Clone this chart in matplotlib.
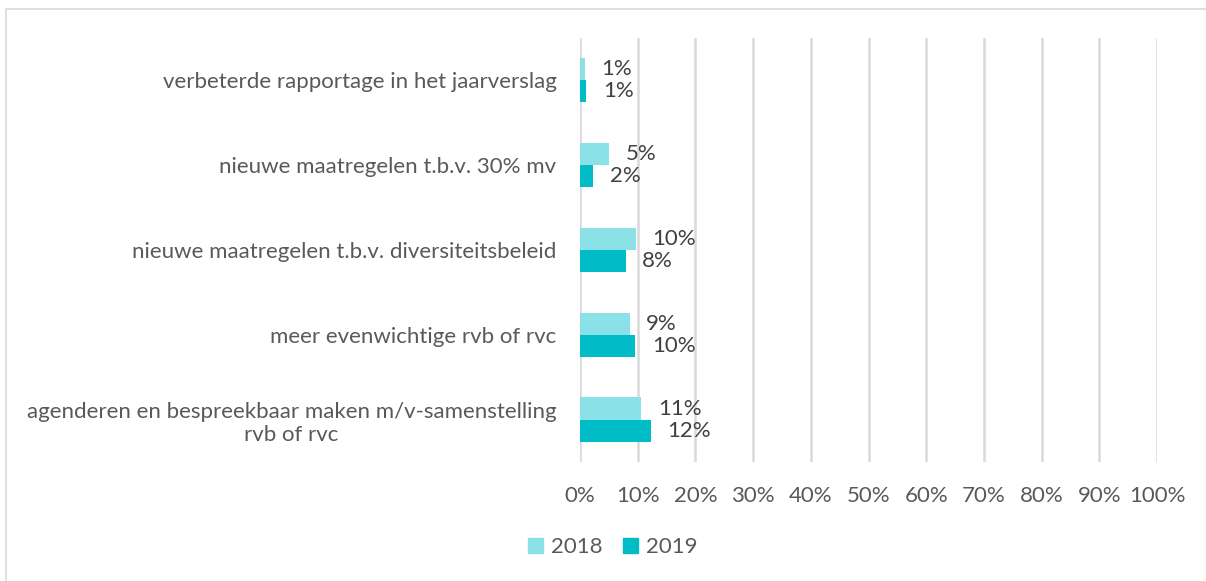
import matplotlib.pyplot as plt
from matplotlib.patches import Patch, Rectangle

# data (percentages)
categories = [
    "verbeterde rapportage in het jaarverslag",
    "nieuwe maatregelen t.b.v. 30% mv",
    "nieuwe maatregelen t.b.v. diversiteitsbeleid",
    "meer evenwichtige rvb of rvc",
    "agenderen en bespreekbaar maken m/v-samenstelling\nrvb of rvc",
]
values_2018 = [0.8, 5.1, 9.7, 8.6, 10.6]
values_2019 = [1.1, 2.3, 7.9, 9.6, 12.3]
series_names = ["2018", "2019"]
ticks = list(range(0, 101, 10))

color_2018 = "#8AE1E7"
color_2019 = "#00BCC6"
grid_color = "#D9D9D9"
text_color = "#595959"
label_color = "#404040"
font = "Lato"
fs = 16

fig = plt.figure(figsize=(12.06, 5.81), dpi=100)
ax = fig.add_axes([580 / 1206, 1 - 462 / 581, 577 / 1206, 424.5 / 581])

# chart outer border
fig.patches.append(Rectangle((6 / 1206, -0.1), 1.2, 1.1 - 8.5 / 581, transform=fig.transFigure,
                             fill=False, edgecolor=grid_color, linewidth=1.2))

pos = list(range(len(categories)))
h = 0.26
ax.barh([p - h / 2 for p in pos], values_2018, height=h, color=color_2018, zorder=3)
ax.barh([p + h / 2 for p in pos], values_2019, height=h, color=color_2019, zorder=3)

for p, v18, v19 in zip(pos, values_2018, values_2019):
    ax.annotate(f"{round(v18)}%", (v18, p - h / 2), xytext=(12, 0), textcoords="offset points",
                va="center", ha="left", fontsize=fs, color=label_color, family=font)
    ax.annotate(f"{round(v19)}%", (v19, p + h / 2), xytext=(12, 0), textcoords="offset points",
                va="center", ha="left", fontsize=fs, color=label_color, family=font)

ax.set_xlim(0, 100)
ax.set_ylim(len(categories) - 0.5, -0.5)
ax.set_xticks(ticks)
ax.set_xticklabels([f"{t}%" for t in ticks], fontsize=fs, color=text_color, family=font)
ax.set_yticks(pos)
ax.set_yticklabels(categories, fontsize=fs, color=text_color, family=font, ha="right",
                   multialignment="center")
ax.tick_params(axis="both", length=0)
ax.tick_params(axis="y", pad=17)
ax.tick_params(axis="x", pad=17)
for s in ax.spines.values():
    s.set_visible(False)
ax.grid(axis="x", color=grid_color, linewidth=1.8, zorder=0)
ax.set_axisbelow(True)

handles = [Patch(color=color_2018), Patch(color=color_2019)]
fig.legend(handles, series_names, loc="center", bbox_to_anchor=(613 / 1206, 1 - 547 / 581), ncol=2,
           frameon=False, handlelength=0.65, handleheight=0.65, handletextpad=0.4, columnspacing=0.9,
           prop={"family": font, "size": fs}, labelcolor=text_color)

fig.savefig("out.png", dpi=100)
